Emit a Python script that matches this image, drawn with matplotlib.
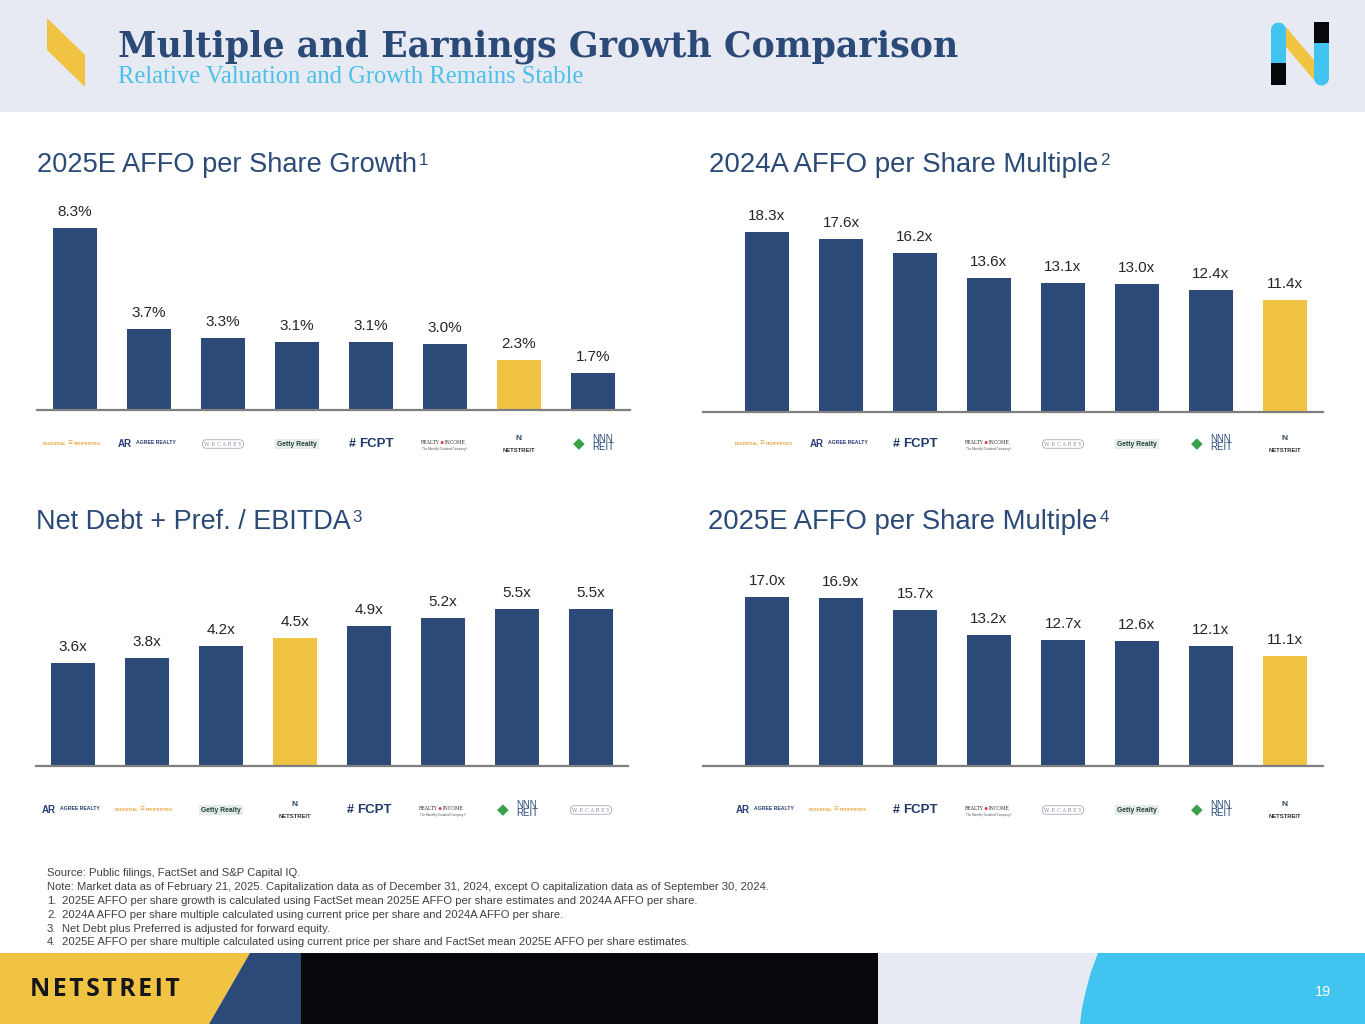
import matplotlib
matplotlib.use("Agg")
import matplotlib.pyplot as plt
from matplotlib.patches import Rectangle, Polygon, Circle

W, H = 1365, 1024
NAVY = "#2B4A77"
YELLOW = "#F0C442"
SKY = "#42C4F0"
HEADER_BG = "#E7EAF2"

# ---------------- data ----------------
growth_labels = ["ESSENTIAL PROPERTIES", "AGREE REALTY", "W. P. CAREY", "Getty Realty",
                 "FCPT", "REALTY INCOME", "NETSTREIT", "NNN REIT"]
growth_values = [8.3, 3.7, 3.3, 3.1, 3.1, 3.0, 2.3, 1.7]

mult24_labels = ["ESSENTIAL PROPERTIES", "AGREE REALTY", "FCPT", "REALTY INCOME",
                 "W. P. CAREY", "Getty Realty", "NNN REIT", "NETSTREIT"]
mult24_values = [18.3, 17.6, 16.2, 13.6, 13.1, 13.0, 12.4, 11.4]

debt_labels = ["AGREE REALTY", "ESSENTIAL PROPERTIES", "Getty Realty", "NETSTREIT",
               "FCPT", "REALTY INCOME", "NNN REIT", "W. P. CAREY"]
debt_values = [3.6, 3.8, 4.2, 4.5, 4.9, 5.2, 5.5, 5.5]

mult25_labels = ["AGREE REALTY", "ESSENTIAL PROPERTIES", "FCPT", "REALTY INCOME",
                 "W. P. CAREY", "Getty Realty", "NNN REIT", "NETSTREIT"]
mult25_values = [17.0, 16.9, 15.7, 13.2, 12.7, 12.6, 12.1, 11.1]

panel_titles = ["2025E AFFO per Share Growth", "2024A AFFO per Share Multiple",
                "Net Debt + Pref. / EBITDA", "2025E AFFO per Share Multiple"]
panel_sups = ["1", "2", "3", "4"]

footnotes = [
    ("", "Source: Public filings, FactSet and S&P Capital IQ."),
    ("", "Note: Market data as of February 21, 2025. Capitalization data as of December 31, 2024, except O capitalization data as of September 30, 2024."),
    ("1.", "2025E AFFO per share growth is calculated using FactSet mean 2025E AFFO per share estimates and 2024A AFFO per share."),
    ("2.", "2024A AFFO per share multiple calculated using current price per share and 2024A AFFO per share."),
    ("3.", "Net Debt plus Preferred is adjusted for forward equity."),
    ("4.", "2025E AFFO per share multiple calculated using current price per share and FactSet mean 2025E AFFO per share estimates."),
]

plt.rcParams["font.family"] = ["Liberation Sans", "DejaVu Sans"]

fig = plt.figure(figsize=(W / 100, H / 100), dpi=100)
fig.patch.set_facecolor("white")
renderer = fig.canvas.get_renderer()

# background / decoration axes in pixel coordinates
bg = fig.add_axes([0, 0, 1, 1], zorder=0)
bg.set_xlim(0, W)
bg.set_ylim(H, 0)
bg.axis("off")


def fit(txt, target_w):
    w = txt.get_window_extent(renderer=renderer).width
    txt.set_fontsize(txt.get_fontsize() * target_w / w)
    return txt


# header
bg.add_patch(Rectangle((0, 0), W, 112, color=HEADER_BG, lw=0))
bg.add_patch(Polygon([(47, 18), (85, 55), (85, 87), (47, 50)], closed=True, color=YELLOW, lw=0))
t = bg.text(118, 57, "Multiple and Earnings Growth Comparison", fontsize=26,
            fontweight="bold", family=["DejaVu Serif"], color=NAVY, va="baseline", ha="left")
fit(t, 842)
t = bg.text(118, 83, "Relative Valuation and Growth Remains Stable", fontsize=15,
            family=["Liberation Serif"], color="#4BC0E8", va="baseline", ha="left")
fit(t, 469)

# N logo top right
bg.add_patch(Polygon([(1286, 27), (1314, 60), (1314, 80), (1286, 47)], closed=True, color=YELLOW, lw=0))
bg.add_patch(Rectangle((1271, 30), 15, 55, color=SKY, lw=0))
bg.add_patch(Circle((1278.5, 30), 7.5, color=SKY, lw=0))
bg.add_patch(Rectangle((1271, 63), 15, 22, color="#07080C", lw=0))
bg.add_patch(Rectangle((1314, 22), 15, 56, color=SKY, lw=0))
bg.add_patch(Circle((1321.5, 78), 7.5, color=SKY, lw=0))
bg.add_patch(Rectangle((1314, 22), 15, 21, color="#07080C", lw=0))

# footer
bg.add_patch(Polygon([(0, 953), (250, 953), (209, 1024), (0, 1024)], closed=True, color=YELLOW, lw=0))
bg.add_patch(Polygon([(250, 953), (301, 953), (301, 1024), (209, 1024)], closed=True, color=NAVY, lw=0))
bg.add_patch(Rectangle((301, 953), 577, 71, color="#07080C", lw=0))
bg.add_patch(Rectangle((878, 953), W - 878, 71, color=HEADER_BG, lw=0))
bg.add_patch(Polygon([(1098, 953), (W, 953), (W, 1024), (1080, 1024), (1082, 1008),
                      (1086, 990), (1091, 972)], closed=True, color=SKY, lw=0))
t = bg.text(30, 990, "\u200a".join("NETSTREIT"), fontsize=16, fontweight="bold",
            family=["Open Sans", "DejaVu Sans"], color="#15151A", va="center", ha="left")
fit(t, 151)
bg.text(1323, 992, "19", fontsize=10.5, color="white", va="center", ha="center")

# footnotes
fy = [873, 887, 901, 915, 929, 942]
fn_size = 8.0
probe = bg.text(47, fy[1], footnotes[1][1], fontsize=fn_size, color="#404040", va="center", ha="left")
fit(probe, 729)
fn_size = probe.get_fontsize()
probe.remove()
for (num, txt), y in zip(footnotes, fy):
    if num:
        bg.text(47, y, num, fontsize=fn_size, color="#404040", va="center", ha="left")
        bg.text(62, y, txt, fontsize=fn_size, color="#404040", va="center", ha="left")
    else:
        bg.text(47, y, txt, fontsize=fn_size, color="#404040", va="center", ha="left")

# panel titles
title_pos = [(37, 172, 380), (709, 172, 390), (36, 529, 314), (708, 529, 389)]
for (x, y, w), ttl, sup in zip(title_pos, panel_titles, panel_sups):
    t = bg.text(x, y, ttl, fontsize=20, color=NAVY, va="baseline", ha="left")
    fit(t, w)
    bb = t.get_window_extent(renderer=renderer)
    xr = bb.x1 + 2
    bg.text(xr, y - 7, sup, fontsize=t.get_fontsize() * 0.62, color=NAVY, va="baseline", ha="left")


# ---------------- logos ----------------
def logo(ax, i, name, dy):
    def t(dx, ddy, s, **kw):
        ax.annotate(s, xy=(i, 0), xycoords="data", xytext=(dx * 0.72, -(dy + ddy) * 0.72),
                    textcoords="offset points", ha="center", va="center",
                    annotation_clip=False, **kw)

    if name == "ESSENTIAL PROPERTIES":
        t(-20, 0, "ESSENTIAL", fontsize=3.1, color="#E9A23B", fontweight="bold")
        t(-4.5, 0, "\u2261", fontsize=6, color="#E9A23B", fontweight="bold")
        t(12, 0, "PROPERTIES", fontsize=3.1, color="#E9A23B", fontweight="bold")
    elif name == "AGREE REALTY":
        t(-24, 0, "AR", fontsize=7, color="#2A3F78", fontweight="bold")
        t(7, -1, "AGREE REALTY", fontsize=3.7, color="#2A3F78", fontweight="bold")
    elif name == "W. P. CAREY":
        t(0, 0, "W. P. C A R E Y", fontsize=3.6, color="#8C90A0", family=["DejaVu Serif"],
          bbox=dict(boxstyle="round,pad=0.35,rounding_size=0.8", fc="white", ec="#A8ACB8", lw=0.6))
    elif name == "Getty Realty":
        t(0, 0, "Getty Realty", fontsize=4.9, color="#24423A", fontweight="bold",
          bbox=dict(boxstyle="square,pad=0.25", fc="#E5ECE9", ec="none"))
    elif name == "FCPT":
        t(-19, 0, "#", fontsize=9, color="#1F3A68", fontweight="bold")
        t(5, 0, "FCPT", fontsize=9.5, color="#1F3A68", fontweight="bold")
    elif name == "REALTY INCOME":
        t(-15, -2, "REALTY", fontsize=3.3, color="#333333", family=["DejaVu Serif"])
        t(-3, -2, "\u25CF", fontsize=5, color="#E0353A")
        t(10, -2, "INCOME", fontsize=3.3, color="#333333", family=["DejaVu Serif"])
        t(0, 5, "The Monthly Dividend Company\u00AE", fontsize=2.2, color="#555555")
    elif name == "NETSTREIT":
        t(0, -6, "N", fontsize=6, color="#34495E", fontweight="bold")
        t(0, 6, "NETSTREIT", fontsize=4.2, color="#2E2E2E", fontweight="bold")
    elif name == "NNN REIT":
        t(-14, 0, "\u25C6", fontsize=11, color="#3AA14A")
        t(10, -1, "NNN\nREIT", fontsize=7, color="#2A4A78", linespacing=0.8)


# ---------------- charts ----------------
panels = [
    dict(labels=growth_labels, values=growth_values, fmt="{:.1f}%", xl=37, xr=630, c0=75,
         base=410, ppu=21.93, top=190, logo_dy=34),
    dict(labels=mult24_labels, values=mult24_values, fmt="{:.1f}x", xl=703, xr=1323, c0=767,
         base=412, ppu=9.84, top=195, logo_dy=32),
    dict(labels=debt_labels, values=debt_values, fmt="{:.1f}x", xl=36, xr=628, c0=73,
         base=766, ppu=28.5, top=560, logo_dy=44),
    dict(labels=mult25_labels, values=mult25_values, fmt="{:.1f}x", xl=703, xr=1323, c0=767,
         base=766, ppu=9.94, top=560, logo_dy=44),
]
spacing = 74.0

for p in panels:
    ax = fig.add_axes([p["xl"] / W, 1 - p["base"] / H, (p["xr"] - p["xl"]) / W,
                       (p["base"] - p["top"]) / H], zorder=2)
    ax.patch.set_alpha(0)
    xmin = -(p["c0"] - p["xl"]) / spacing
    xmax = xmin + (p["xr"] - p["xl"]) / spacing
    ax.set_xlim(xmin, xmax)
    ax.set_ylim(0, (p["base"] - p["top"]) / p["ppu"])
    for s in ["top", "left", "right"]:
        ax.spines[s].set_visible(False)
    ax.spines["bottom"].set_color("#7F7F7F")
    ax.spines["bottom"].set_linewidth(1.6)
    ax.set_xticks([])
    ax.set_yticks([])
    xs = list(range(len(p["values"])))
    colors = [YELLOW if lab == "NETSTREIT" else NAVY for lab in p["labels"]]
    ax.bar(xs, p["values"], width=0.59, color=colors, zorder=1)
    for x, v in zip(xs, p["values"]):
        ax.annotate(p["fmt"].format(v), xy=(x, v), xytext=(0, 11.5), textcoords="offset points",
                    ha="center", va="center", fontsize=11, color="#262626")
    for x, lab in zip(xs, p["labels"]):
        logo(ax, x, lab, p["logo_dy"])

fig.savefig("out.png", dpi=100, facecolor="white")
